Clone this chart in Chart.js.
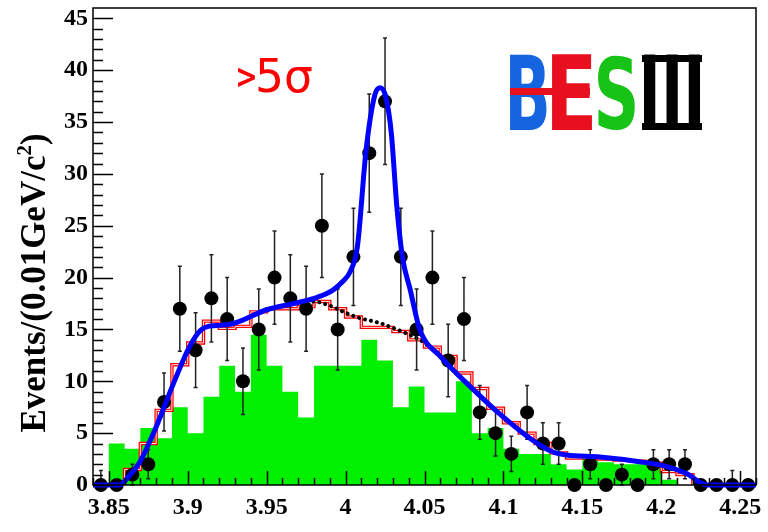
<!DOCTYPE html>
<html>
<head>
<meta charset="utf-8">
<script src="https://cdn.jsdelivr.net/npm/chart.js@4.4.1/dist/chart.umd.min.js"></script>
<style>
  html, body { margin: 0; padding: 0; background: #ffffff; }
  #wrap { width: 768px; height: 532px; }
</style>
</head>
<body>
<div id="wrap"><canvas id="c" width="768" height="532"></canvas></div>
<script>
// ---- data ----
const massBins = [3.845, 3.855, 3.865, 3.875, 3.885, 3.895, 3.905, 3.915, 3.925, 3.935,
                  3.945, 3.955, 3.965, 3.975, 3.985, 3.995, 4.005, 4.015, 4.025, 4.035,
                  4.045, 4.055, 4.065, 4.075, 4.085, 4.095, 4.105, 4.115, 4.125, 4.135,
                  4.145, 4.155, 4.165, 4.175, 4.185, 4.195, 4.205, 4.215, 4.225, 4.235,
                  4.245, 4.255];
const dataCounts = [0, 0, 1, 2, 8, 17, 13, 18, 16, 10,
                    15, 20, 18, 17, 25, 15, 22, 32, 37, 22,
                    15, 20, 12, 16, 7, 5, 3, 7, 4, 4,
                    0, 2, 0, 1, 0, 2, 2, 2, 0, 0,
                    0, 0];
const dataErrors = [1.4, 0, 1.0, 1.4, 2.8, 4.1, 3.6, 4.2, 4.0, 3.2,
                    3.9, 4.5, 4.2, 4.1, 5.0, 3.9, 4.7, 5.7, 6.1, 4.7,
                    3.9, 4.5, 3.5, 4.0, 2.6, 2.2, 1.7, 2.6, 2.0, 2.0,
                    0, 1.4, 0, 1.0, 0, 1.4, 1.4, 1.4, 0, 0,
                    1.4, 0];
const greenMC = [0, 4, 3.5, 5.5, 4.5, 7.5, 5, 8.5, 11.5, 9,
                 14.5, 11.5, 9, 6.5, 11.5, 11.5, 11.5, 14, 12, 7.5,
                 9.5, 7, 7, 10, 5, 5.5, 3.5, 3, 3, 2,
                 1.5, 2.7, 2.2, 2, 2, 2, 0.5, 0, 0, 0,
                 0, 0];
const redMC = [0, 0, 1.5, 4, 7.2, 11.6, 13.7, 15.8, 15.1, 15.3,
               16.7, 17.0, 17.0, 17.2, 17.7, 17.0, 16.2, 15.2, 15.2, 14.8,
               14.0, 13.3, 12.4, 10.8, 9.3, 7.4, 6.0, 5.0, 4.0, 3.1,
               2.6, 2.6, 2.5, 2.4, 2.3, 2.1, 1.3, 1.0, 0, 0,
               0, 0];
const fitMass = [3.840, 3.857, 3.863, 3.870, 3.880, 3.891, 3.901, 3.908, 3.913, 3.927,
                 3.950, 3.970, 3.982, 3.992, 3.998, 4.003, 4.0075, 4.013, 4.0185, 4.022,
                 4.0255, 4.029, 4.0325, 4.036, 4.041, 4.047, 4.060, 4.081, 4.098, 4.115,
                 4.131, 4.140, 4.161, 4.186, 4.203, 4.216, 4.229, 4.260];
const fitYield = [0, 0, 0.9, 2.3, 5.6, 9.8, 13.3, 14.9, 15.3, 15.5,
                  16.9, 17.6, 18.1, 18.8, 19.6, 20.6, 23.0, 32.3, 37.6, 38.3,
                  37.4, 33.9, 26.8, 22.0, 18.8, 15.0, 12.4, 9.2, 6.8, 4.7,
                  3.2, 2.9, 2.7, 2.25, 1.8, 1.1, 0, 0];
const bkgMass = [3.968, 3.979, 3.990, 4.000, 4.009, 4.022, 4.034, 4.047, 4.058];
const bkgYield = [17.5, 17.7, 17.3, 16.6, 16.1, 15.6, 14.9, 14.0, 12.8];
const xTickValues = [3.85, 3.9, 3.95, 4.0, 4.05, 4.1, 4.15, 4.2, 4.25];
const xTickLabels = ['3.85', '3.9', '3.95', '4', '4.05', '4.1', '4.15', '4.2', '4.25'];
const yTickValues = [0, 5, 10, 15, 20, 25, 30, 35, 40, 45];
const yTickLabels = ['0', '5', '10', '15', '20', '25', '30', '35', '40', '45'];
const yTitle = 'Events/(0.01GeV/c';
const yTitleSup = '2';
const signifText = ['>', '5σ'];
const logoText = ['B', 'E', 'S', 'III'];

// ---- helpers ----
const binHalf = 0.005;
function histPoints(values) {
  const pts = massBins.map((m, i) => ({ x: m - binHalf, y: values[i] }));
  pts.push({ x: massBins[massBins.length - 1] + binHalf, y: values[values.length - 1] });
  return pts;
}
const X_MIN = 3.84, X_MAX = 4.26, Y_MIN = 0, Y_MAX = 46;
const tickFont = { family: '"Liberation Serif", "Times New Roman", serif', size: 24, weight: 'bold' };

function drawFit(ctx, text, font, color, x0, x1, yTop, yBot) {
  ctx.save();
  ctx.font = font;
  ctx.textAlign = 'left';
  ctx.textBaseline = 'alphabetic';
  const m = ctx.measureText(text);
  const w = m.actualBoundingBoxLeft + m.actualBoundingBoxRight;
  const h = m.actualBoundingBoxAscent + m.actualBoundingBoxDescent;
  const sx = (x1 - x0) / w, sy = (yBot - yTop) / h;
  ctx.translate(x0 + m.actualBoundingBoxLeft * sx, yTop + m.actualBoundingBoxAscent * sy);
  ctx.scale(sx, sy);
  ctx.fillStyle = color;
  ctx.fillText(text, 0, 0);
  ctx.restore();
}

// ---- plugins ----
const errorBars = {
  id: 'errorBars',
  beforeDatasetDraw(chart, args) {
    if (chart.data.datasets[args.index].label !== 'Data') return;
    const { ctx, scales: { x, y } } = chart;
    ctx.save();
    ctx.strokeStyle = '#222';
    ctx.lineWidth = 1.5;
    ctx.beginPath();
    massBins.forEach((m, i) => {
      const e = dataErrors[i];
      if (!e) return;
      const px = x.getPixelForValue(m);
      const top = y.getPixelForValue(dataCounts[i] + e);
      const bot = y.getPixelForValue(Math.max(0, dataCounts[i] - e));
      ctx.moveTo(px, top); ctx.lineTo(px, bot);
      ctx.moveTo(px - 2, top); ctx.lineTo(px + 2, top);
      ctx.moveTo(px - 2, bot); ctx.lineTo(px + 2, bot);
    });
    ctx.stroke();
    ctx.restore();
  }
};

const frameTicks = {
  id: 'frameTicks',
  afterDatasetsDraw(chart) {
    const { ctx, chartArea: a, scales: { x, y } } = chart;
    ctx.save();
    ctx.strokeStyle = '#000';
    ctx.lineWidth = 1.5;
    ctx.strokeRect(a.left, a.top, a.right - a.left, a.bottom - a.top);
    ctx.beginPath();
    for (let v = Y_MIN; v <= 45; v += 1) {
      const py = Math.round(y.getPixelForValue(v)) + 0.5;
      ctx.moveTo(a.left, py);
      ctx.lineTo(a.left + (v % 5 === 0 ? 20 : 10), py);
    }
    for (let i = 0; i <= 42; i++) {
      const px = Math.round(x.getPixelForValue(X_MIN + i * 0.01)) + 0.5;
      const major = (i - 1) % 5 === 0;
      ctx.moveTo(px, a.bottom);
      ctx.lineTo(px, a.bottom - (major ? 14 : 7));
    }
    ctx.stroke();
    ctx.restore();
  },
  afterDraw(chart) {
    const ctx = chart.ctx;
    // y axis title
    ctx.save();
    ctx.translate(45, 283);
    ctx.rotate(-Math.PI / 2);
    const fMain = 'bold 35px "Liberation Serif", serif';
    const fSup = 'bold 21px "Liberation Serif", serif';
    ctx.font = fMain;
    const w1 = ctx.measureText(yTitle).width;
    const w3 = ctx.measureText(')').width;
    ctx.font = fSup;
    const w2 = ctx.measureText(yTitleSup).width;
    const W = w1 + w2 + w3;
    let sx = -W / 2;
    ctx.fillStyle = '#000';
    ctx.textBaseline = 'alphabetic';
    ctx.textAlign = 'left';
    ctx.font = fMain; ctx.fillText(yTitle, sx, 0); sx += w1;
    ctx.font = fSup; ctx.fillText(yTitleSup, sx, -14); sx += w2;
    ctx.font = fMain; ctx.fillText(')', sx, 0);
    ctx.restore();

    // significance label
    drawFit(ctx, signifText[0], 'bold 60px "DejaVu Sans", sans-serif', '#ff0000', 238, 255, 67, 87);
    drawFit(ctx, signifText[1], '60px "DejaVu Sans", sans-serif', '#ff0000', 258, 312, 57, 93);

    // BESIII logo
    const lf = 'bold 100px "DejaVu Sans", sans-serif';
    drawFit(ctx, logoText[0], lf, '#1565e0', 510, 547, 55, 130);
    drawFit(ctx, logoText[1], lf, '#e8101e', 552, 592, 55, 130);
    ctx.save();
    ctx.fillStyle = '#e8101e';
    ctx.fillRect(510, 88, 80, 7);
    ctx.restore();
    drawFit(ctx, logoText[2], lf, '#16c316', 598, 635, 55, 130);
    drawFit(ctx, logoText[3], lf, '#000', 644, 700, 55, 130);
    ctx.save();
    ctx.fillStyle = '#000';
    ctx.fillRect(642, 55, 60, 7);
    ctx.fillRect(642, 123, 60, 7);
    ctx.restore();
  }
};

Chart.defaults.font.family = '"Liberation Serif", serif';

new Chart(document.getElementById('c'), {
  type: 'line',
  data: {
    datasets: [
      {
        label: 'Fit',
        data: fitMass.map((m, i) => ({ x: m, y: fitYield[i] })),
        borderColor: '#0000ff',
        borderWidth: 5,
        pointRadius: 0,
        cubicInterpolationMode: 'monotone',
        fill: false,
        order: 0,
        clip: false
      },
      {
        label: 'Data',
        data: massBins.map((m, i) => ({ x: m, y: dataCounts[i] })),
        showLine: false,
        pointRadius: 7,
        pointBackgroundColor: '#000',
        pointBorderColor: '#000',
        pointBorderWidth: 0,
        order: 1,
        clip: false
      },
      {
        label: 'Background fit',
        data: bkgMass.map((m, i) => ({ x: m, y: bkgYield[i] })),
        borderColor: '#000',
        borderWidth: 4,
        borderDash: [0.1, 6],
        borderCapStyle: 'round',
        pointRadius: 0,
        cubicInterpolationMode: 'monotone',
        fill: false,
        order: 2
      },
      {
        label: 'MC total inner',
        data: histPoints(redMC),
        stepped: true,
        borderColor: '#ffffff',
        borderWidth: 0.9,
        pointRadius: 0,
        fill: false,
        order: 3
      },
      {
        label: 'MC total',
        data: histPoints(redMC),
        stepped: true,
        borderColor: '#ff0000',
        borderWidth: 3.4,
        pointRadius: 0,
        fill: false,
        order: 4
      },
      {
        label: 'MC background',
        data: histPoints(greenMC),
        stepped: true,
        borderWidth: 0,
        borderColor: 'rgba(0,0,0,0)',
        backgroundColor: '#00f000',
        pointRadius: 0,
        fill: 'origin',
        order: 5
      }
    ]
  },
  options: {
    responsive: false,
    animation: false,
    devicePixelRatio: 1,
    layout: { padding: { top: 8, right: 12, left: 0, bottom: 0 } },
    plugins: { legend: { display: false }, tooltip: { enabled: false } },
    scales: {
      x: {
        type: 'linear',
        min: X_MIN, max: X_MAX,
        grid: { display: false, drawTicks: false },
        border: { display: false },
        afterBuildTicks: s => { s.ticks = xTickValues.map(v => ({ value: v })); },
        afterFit: s => { s.height = 47; s.paddingLeft = 0; s.paddingRight = 0; },
        ticks: {
          padding: 8, color: '#000', font: tickFont,
          maxRotation: 0, autoSkip: false,
          callback: (v, i) => xTickLabels[i]
        }
      },
      y: {
        type: 'linear',
        min: Y_MIN, max: Y_MAX,
        grid: { display: false, drawTicks: false },
        border: { display: false },
        afterBuildTicks: s => { s.ticks = yTickValues.map(v => ({ value: v })); },
        afterFit: s => { s.width = 93; s.paddingTop = 0; s.paddingBottom = 0; },
        ticks: {
          padding: 5, color: '#000', font: tickFont,
          autoSkip: false,
          callback: (v, i) => yTickLabels[i]
        }
      }
    }
  },
  plugins: [errorBars, frameTicks]
});
</script>
</body>
</html>
